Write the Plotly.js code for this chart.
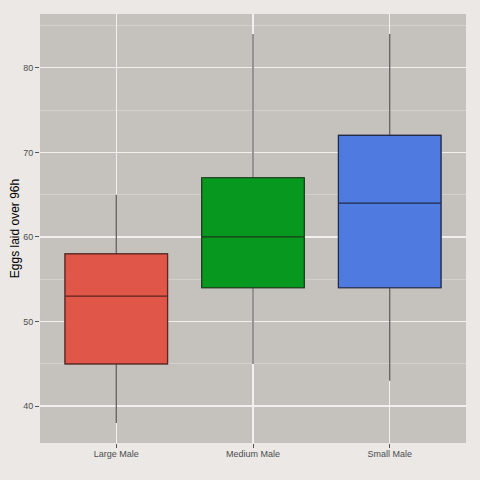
<!DOCTYPE html>
<html>
<head>
<meta charset="utf-8">
<script src="https://cdn.plot.ly/plotly-3.0.1.min.js"></script>
<style>
  html, body { margin: 0; padding: 0; background: #ebe8e6; }
  #chart { width: 480px; height: 480px; }
</style>
</head>
<body>
<div id="chart"></div>
<script>
// Egg counts over 96h, summarised per male size class
const groups = ["Large Male", "Medium Male", "Small Male"];
const lowerWhisker = [38, 45, 43];
const q1 = [45, 54, 54];
const median = [53, 60, 64];
const q3 = [58, 67, 72];
const upperWhisker = [65, 84, 84];
const fills = ["#e0574a", "#07991f", "#4f7be1"];
const outlines = ["#5a2620", "#1c3a1c", "#1e2a48"];
const yTicks = [40, 50, 60, 70, 80];

const traces = [];
groups.forEach((g, i) => {
  // whiskers (gray), drawn underneath
  traces.push({
    type: "box", x: [g],
    q1: [q1[i]], median: [median[i]], q3: [q3[i]],
    lowerfence: [lowerWhisker[i]], upperfence: [upperWhisker[i]],
    width: 0.75, whiskerwidth: 0,
    fillcolor: fills[i],
    line: { color: "#5c5555", width: 1.2 },
    hoverinfo: "skip", showlegend: false
  });
  // box body with darker outline on top
  traces.push({
    type: "box", x: [g],
    q1: [q1[i]], median: [median[i]], q3: [q3[i]],
    lowerfence: [q1[i]], upperfence: [q3[i]],
    width: 0.75, whiskerwidth: 0,
    fillcolor: fills[i],
    line: { color: outlines[i], width: 1.2 },
    showlegend: false
  });
});

const layout = {
  width: 480, height: 480,
  paper_bgcolor: "#ebe8e6",
  plot_bgcolor: "#c5c1bd",
  margin: { l: 40, r: 14, t: 14, b: 37 },
  boxmode: "overlay",
  font: { family: "Liberation Sans, Arial, sans-serif", color: "#4d4d4d" },
  xaxis: {
    type: "category",
    categoryorder: "array", categoryarray: groups,
    range: [-0.558, 2.558],
    showgrid: true, gridcolor: "#f2f0ee", gridwidth: 1.5,
    ticks: "outside", ticklen: 4, tickcolor: "#555", tickwidth: 1,
    ticklabelstandoff: -2,
    tickfont: { size: 9, color: "#4d4d4d" },
    zeroline: false, showline: false
  },
  yaxis: {
    range: [35.65, 86.35],
    tickvals: yTicks,
    showgrid: true, gridcolor: "#f2f0ee", gridwidth: 1.5,
    minor: { dtick: 10, tick0: 45, showgrid: true, gridcolor: "#d4d0cc", gridwidth: 1, ticks: "" },
    ticks: "outside", ticklen: 4, tickcolor: "#555", tickwidth: 1,
    tickfont: { size: 9, color: "#4d4d4d" },
    zeroline: false, showline: false,
    automargin: false,
    title: { text: "Eggs laid over 96h", font: { size: 12, color: "#000" }, standoff: 0 }
  }
};

Plotly.newPlot("chart", traces, layout, { displayModeBar: false, staticPlot: true });
</script>
</body>
</html>
